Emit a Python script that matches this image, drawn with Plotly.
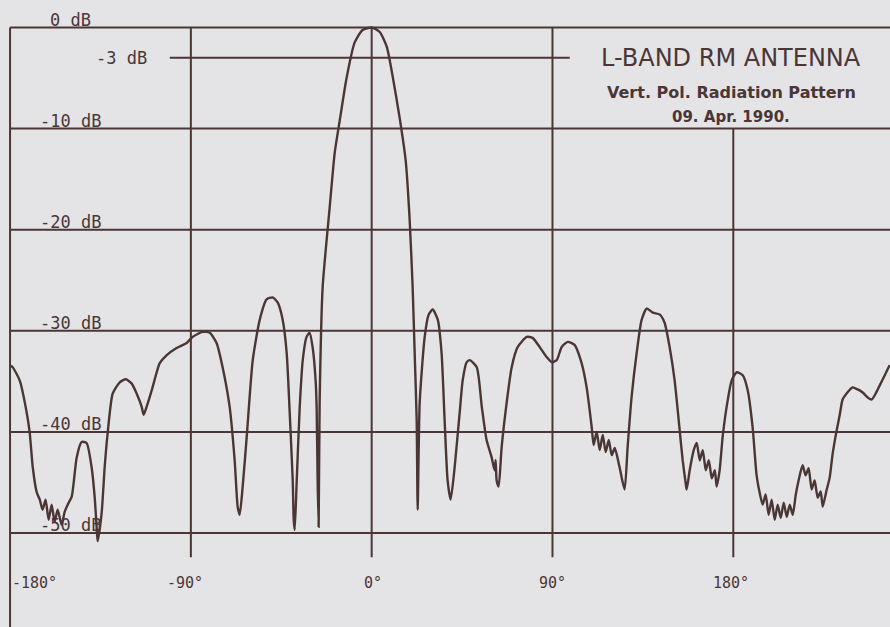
import plotly.graph_objects as go

# Angle (deg) and level (dB)
angle = [-180, -179.2, -175.2, -171.7, -170.2, -168.7, -166.7, -165.2,
         -163.8, -162.3, -160.8, -159.3, -157.8, -156.3, -154.3, -152.8, -151.3,
         -149.3, -146.8, -144.4, -141.9, -139.4, -137.9, -136.9, -136.4, -134.4,
         -132.9, -131.4, -128.9, -125.4, -122.4, -119.5, -117.0, -114.5, -113.5,
         -112.0, -109.5, -107.0, -105.5, -102.0, -97.1, -92.1, -89.1, -84.1,
         -80.6, -77.2, -74.2, -70.7, -68.2, -66.7, -65.7, -64.2, -62.2, -59.2,
         -55.7, -52.3, -49.3, -46.8, -44.3, -42.3, -40.8, -39.3, -38.8, -38.3,
         -37.3, -35.8, -34.3, -32.4, -30.9, -29.4, -27.9, -27.4, -26.9, -26.4,
         -25.9, -24.4, -20.9, -18.4, -15.9, -12.4, -8.5, -4.5, 0, 4.0, 7.5,
         10.5, 13.9, 16.9, 18.9, 20.4, 21.4, 22.4, 22.9, 23.9, 26.4, 28.4, 30.4,
         32.9, 34.8, 36.3, 37.8, 39.3, 41.3, 43.8, 45.3, 47.3, 48.8, 52.3, 54.8,
         57.2, 59.7, 61.2, 61.7, 62.2, 63.2, 64.7, 67.2, 69.7, 72.7, 77.2, 80.1,
         83.6, 87.1, 89.6, 92.1, 94.6, 97.6, 101.0, 104.5, 107.0, 109.5,
         110.5, 112.0, 113.5, 115.0, 116.5, 118.0, 119.5, 121.0,
         123.4, 125.9, 127.4, 129.4, 131.9, 134.4, 136.9, 139.9, 143.4, 145.8,
         148.3, 150.8, 153.3, 154.8, 156.3, 156.8,
         158.3, 160.3, 161.8, 163.3, 164.8, 166.3, 167.8, 169.3, 170.8, 171.7,
         173.2, 174.7, 176.7, 179.2, 181.7, 184.7, 187.2, 189.6, 191.6, 193.1,
         194.6, 196.1, 197.6, 199.1, 200.6, 202.1, 203.6, 205.1, 206.6, 208.1,
         209.6, 211.1, 212.5, 214.5, 216.0, 217.5, 219.0, 220.5, 222.0, 223.5,
         224.5, 226.5, 228.0, 229.5, 231.5, 233.0, 234.4, 236.4, 239.4, 241.9,
         244.4, 246.9, 248.9, 250.9, 252.9, 255.4, 257.8]
level_db = [-33.6, -33.5, -34.9, -38.1, -40.1, -43.5, -46.0, -46.7,
            -47.7, -46.7, -48.7, -47.2, -48.9, -47.7, -49.2, -47.9, -47.2,
            -46.4, -42.5, -41.0, -41.1, -43.5, -46.4, -49.4, -50.8, -48.0,
            -43.5, -40.1, -36.2, -35.1, -34.8, -35.2, -36.2, -37.5, -38.3,
            -37.5, -35.9, -34.1, -33.2, -32.4, -31.7, -31.2, -30.6, -30.1,
            -30.2, -31.2, -33.6, -37.5, -42.8, -47.4, -48.2, -45.4, -40.5, -32.9,
            -28.9, -26.9, -26.7, -27.2, -28.9, -32.2, -38.1, -44.8, -48.7, -49.7,
            -44.8, -37.5, -32.9, -30.6, -30.2, -31.6, -34.9, -37.5, -44.8, -49.4,
            -37.1, -25.7, -17.8, -12.4, -9.2, -4.9, -1.5, -0.25, 0, -0.45, -1.9,
            -4.9, -8.9, -13.1, -19.0, -25.7, -32.2, -38.8, -47.7, -37.1, -30.6, -28.4, -27.9,
            -28.9, -32.2, -38.8, -44.8, -46.7, -43.5, -38.1, -34.9, -33.1, -32.9, -33.6, -37.5,
            -40.8, -42.5, -43.8, -42.8, -44.8, -45.4, -41.5, -37.1, -33.6, -31.6, -30.6, -30.7,
            -31.6, -32.6, -33.1, -32.9, -31.6, -31.1, -31.4, -33.2, -35.6, -39.5,
            -41.3, -40.0, -41.8, -40.3, -42.0, -40.8, -42.3, -41.6,
            -43.5, -45.7, -41.5, -36.5, -32.2, -28.9, -27.8, -28.2, -28.4, -29.2,
            -31.6, -34.9, -39.8, -42.8, -45.1, -45.7,
            -43.8, -41.8, -41.1, -42.8, -41.8, -43.8, -42.8, -44.6, -43.8, -45.4,
            -43.8, -40.5, -37.5, -34.9, -34.1, -34.4, -35.9, -39.5, -44.3, -46.0,
            -47.2, -46.2, -48.2, -46.7, -48.7, -47.2, -48.5, -47.0, -48.4, -47.2,
            -48.2, -46.2, -44.8, -43.3, -44.3, -43.6, -45.7, -44.8, -46.5, -45.9,
            -47.4, -45.7, -44.5, -42.1, -39.8, -38.3, -36.8, -36.2, -35.6, -35.8,
            -36.1, -36.6, -36.8, -36.2, -35.4, -34.4, -33.4]

db_grid = [0, -10, -20, -30, -40, -50]
db_labels = ["0 dB", "-10 dB", "-20 dB", "-30 dB", "-40 dB", "-50 dB"]
deg_grid = [-90, 0, 90, 180]
deg_labels = ["-180°", "-90°", "0°", "90°", "180°"]
deg_label_pos = [-180, -93, 0.5, 90, 179]

INK = "#4b3636"
PAPER = "#e4e4e7"
X0, X1 = -185, 258
Y0, Y1 = -59.3, 2.72

fig = go.Figure()
fig.add_trace(go.Scatter(x=angle, y=level_db, mode="lines",
                         line=dict(color=INK, width=2.4, shape="spline", smoothing=0.6),
                         hoverinfo="skip", showlegend=False))

shapes = []
for d in db_grid:
    shapes.append(dict(type="line", x0=-180, x1=X1, y0=d, y1=d,
                       line=dict(color=INK, width=2), layer="below"))
shapes.append(dict(type="line", x0=-100.5, x1=98.6, y0=-3, y1=-3,
                   line=dict(color=INK, width=2), layer="below"))
shapes.append(dict(type="line", x0=-180, x1=-180, y0=0, y1=Y0,
                   line=dict(color=INK, width=2), layer="below"))
for g in deg_grid:
    top = -10 if g == 180 else 0
    shapes.append(dict(type="line", x0=g, x1=g, y0=top, y1=-52.4,
                       line=dict(color=INK, width=2), layer="below"))

ann = []
FONT = "DejaVu Sans Mono"
for d, t in zip(db_grid, db_labels):
    ann.append(dict(x=-149.8, y=d + 0.75, text=t, showarrow=False, xanchor="center",
                    yanchor="middle", font=dict(family=FONT, size=17, color=INK)))
ann.append(dict(x=-124.4, y=-3.0, text="-3 dB", showarrow=False, xanchor="center",
                yanchor="middle", font=dict(family=FONT, size=17, color=INK)))
for p, t in zip(deg_label_pos, deg_labels):
    ann.append(dict(x=p, y=-54.9, text=t, showarrow=False,
                    xanchor="left" if p == -180 else "center",
                    yanchor="middle", font=dict(family=FONT, size=15, color=INK)))
ann.append(dict(x=179, y=-3.0, text="L-BAND RM ANTENNA", showarrow=False,
                xanchor="center", yanchor="middle",
                font=dict(family="DejaVu Sans", size=24, color=INK)))
ann.append(dict(x=179, y=-6.4, text="Vert. Pol. Radiation Pattern", showarrow=False,
                xanchor="center", yanchor="middle",
                font=dict(family="DejaVu Sans", size=16, color=INK, weight="bold")))
ann.append(dict(x=179, y=-8.85, text="09. Apr. 1990.", showarrow=False,
                xanchor="center", yanchor="middle",
                font=dict(family="DejaVu Sans", size=15, color=INK, weight="bold")))

fig.update_layout(
    width=890, height=627,
    margin=dict(l=0, r=0, t=0, b=0),
    paper_bgcolor=PAPER, plot_bgcolor=PAPER,
    xaxis=dict(range=[X0, X1], visible=False, fixedrange=True),
    yaxis=dict(range=[Y0, Y1], visible=False, fixedrange=True),
    shapes=shapes, annotations=ann,
)
fig.write_html("out.html", config={"displayModeBar": False},
               post_script="document.body.style.margin='0';"
                           "document.body.style.overflow='hidden';"
                           "document.body.style.background='" + PAPER + "';")
